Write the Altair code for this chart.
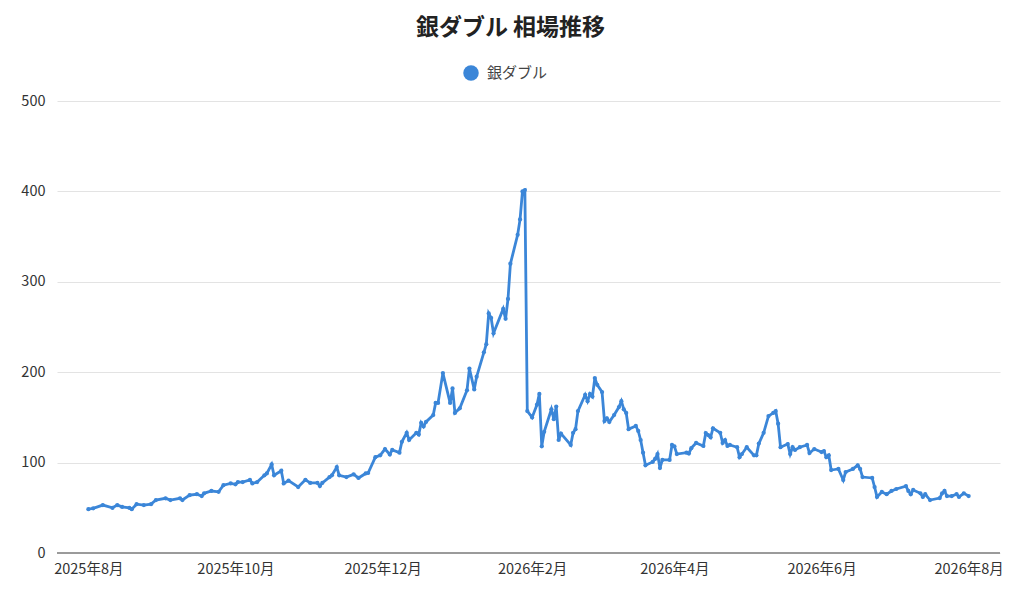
import altair as alt
import pandas as pd

# days since 2025-08-01
day_offsets = [0, 2, 6, 10, 12, 14, 17, 18, 20, 23, 26, 28, 32, 34, 38, 39, 42, 45, 47, 48,
               51, 54, 56, 59, 61, 62, 64, 67, 68, 70, 73, 74, 76, 77, 80, 81, 83, 87, 90, 92,
               95, 96, 97, 100, 101, 103, 104, 107, 110, 112, 115, 116, 119, 121, 123, 125, 126, 129, 130, 132,
               133, 136, 137, 138, 139, 140, 143, 144, 145, 147, 150, 151, 152, 154, 157, 158, 160, 161, 164, 165,
               166, 167, 168, 172, 173, 174, 175, 178, 179, 180, 181, 182, 184, 186, 187, 188, 189, 192, 193, 194,
               195, 196, 200, 201, 202, 203, 206, 207, 208, 209, 210, 211, 213, 214, 215, 216, 218, 220, 221, 222,
               223, 224, 227, 228, 229, 230, 231, 234, 235, 236, 237, 238, 241, 242, 243, 244, 248, 249, 250, 252,
               255, 256, 257, 258, 259, 262, 263, 264, 265, 266, 269, 270, 271, 273, 276, 277, 278, 280, 282, 284,
               285, 286, 287, 290, 291, 292, 293, 295, 298, 299, 301, 304, 305, 306, 307, 308, 311, 313, 314, 317,
               319, 320, 321, 325, 326, 327, 329, 331, 333, 335, 339, 340, 341, 342, 345, 346, 347, 349, 353, 354,
               355, 356, 358, 360, 361, 363, 365]
prices = [48.5, 49.4, 53, 50, 53, 51, 50, 48.5, 54, 53, 54, 58.6, 60.5, 58.6, 60.5, 58.6, 64, 65, 63, 66,
          68.6, 67.7, 75, 77, 76, 78.5, 78.5, 80.8, 77, 78.5, 86, 88, 98, 86, 91, 77, 80, 73, 81, 77.5,
          77.5, 74, 77.5, 84, 86, 95, 86, 84, 87, 83, 88, 88.5, 106, 108, 115, 109, 114, 111, 123, 133,
          125, 133, 131, 144, 140, 145, 152.6, 166, 166, 199, 166, 182, 155, 160, 180, 204, 181, 195, 222, 231,
          265, 260, 243, 270, 259, 281, 320, 352, 369, 400, 401.5, 157, 150, 164, 176, 118, 134, 159, 148, 162,
          125, 132, 119.5, 133, 137, 157, 175, 168, 176, 173, 193.5, 186, 178, 146, 149, 145, 152.6, 161.5, 168, 159,
          155, 137, 140.5, 135, 125, 111, 97, 100.7, 104, 109.5, 94, 103, 103, 119.5, 118, 109.5, 111, 110, 116, 121.7,
          118.4, 132.7, 130.5, 128, 138, 133, 121.7, 125, 118.4, 119.5, 117, 106, 109.5, 117, 108, 108, 121, 133, 151.5, 155,
          157, 143, 117, 120.5, 109.5, 117, 114, 117, 119.5, 110.6, 115, 111.7, 112.8, 106, 108, 91.8, 93, 80.8, 89.6, 93,
          97, 93, 84, 83, 73, 62, 67.5, 65, 68.6, 70.8, 74, 68.6, 65, 69.7, 66, 62, 65, 58.6, 60.8, 66,
          68.6, 63, 63, 65, 62, 66, 63]

series_name = "銀ダブル"
tick_dates = ["2025-08-01", "2025-10-01", "2025-12-01", "2026-02-01", "2026-04-01", "2026-06-01", "2026-08-01"]
y_ticks = [0, 100, 200, 300, 400, 500]

start = pd.Timestamp("2025-08-01")
df = pd.DataFrame({
    "date": [(start + pd.Timedelta(days=d)).strftime("%Y-%m-%d") for d in day_offsets],
    "price": prices,
    "series": series_name,
})

FONT = "Noto Sans CJK JP"
BLUE = "#3b86d8"

x = alt.X(
    "date:T",
    title=None,
    scale=alt.Scale(domain=["2025-07-19", "2026-08-14"]),
    axis=alt.Axis(
        values=tick_dates,
        labelExpr="timeFormat(datum.value, '%Y') + '年' + (month(datum.value) + 1) + '月'",
        grid=False,
        ticks=False,
        domain=False,
        labelFont=FONT,
        labelFontSize=14.5,
        labelColor="#333333",
        labelPadding=9,
    ),
)
y = alt.Y(
    "price:Q",
    title=None,
    scale=alt.Scale(domain=[0, 500], nice=False),
    axis=alt.Axis(
        values=y_ticks,
        grid=True,
        gridColor="#e3e3e3",
        ticks=False,
        domain=False,
        labelFont=FONT,
        labelFontSize=14.5,
        labelColor="#333333",
        labelPadding=12,
    ),
)
color = alt.Color(
    "series:N",
    scale=alt.Scale(domain=[series_name], range=[BLUE]),
    legend=alt.Legend(
        title=None,
        orient="none",
        legendX=406,
        legendY=-36,
        symbolType="circle",
        symbolSize=240,
        symbolStrokeWidth=0,
        labelFont=FONT,
        labelFontSize=15,
        labelColor="#444444",
        labelOffset=8,
    ),
)

base = alt.Chart(df)
line = base.mark_line(strokeWidth=2.8, point=alt.OverlayMarkDef(size=18, filled=True)).encode(
    x=x, y=y, color=color
)
baseline = alt.Chart(df).mark_rule(color="#9a9a9a", strokeWidth=1).encode(
    y=alt.value(452)
)

chart = alt.layer(line, baseline).properties(
    width=943,
    height=452,
    autosize=alt.AutoSizeParams(type="none"),
    padding={"left": 49, "top": 93, "right": 16, "bottom": 36},
    title=alt.Title(
        "銀ダブル 相場推移",
        font=FONT,
        fontSize=23,
        fontWeight="bold",
        color="#222222",
        anchor="middle",
        dx=-18,
        offset=25,
    ),
).configure_view(stroke=None)

chart.save("out.html", embed_options={"renderer": "svg", "actions": False})
